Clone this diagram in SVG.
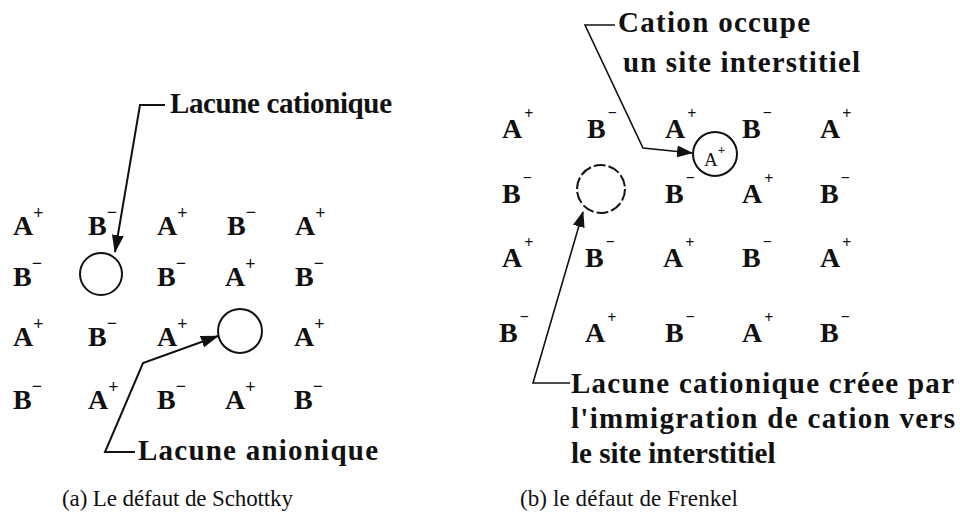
<svg xmlns="http://www.w3.org/2000/svg" width="960" height="518" viewBox="0 0 960 518">
<defs>
<style>
.ion{font-family:"Liberation Serif","DejaVu Serif",serif;font-weight:bold;font-size:28px;fill:#111}
.sup{font-size:18px}
.sup2{font-size:16px}
.lbl{font-family:"Liberation Serif","DejaVu Serif",serif;font-weight:bold;font-size:29px;fill:#111}
.cap{font-family:"Liberation Serif","DejaVu Serif",serif;font-size:23px;fill:#111}
.vac{fill:none;stroke:#111;stroke-width:2}
.conn{fill:none;stroke:#111;stroke-width:2;stroke-linejoin:miter}
.conn2{fill:none;stroke:#111;stroke-width:1.6}
</style>
<marker id="ah" viewBox="0 0 18 12" refX="17" refY="6" markerWidth="18" markerHeight="12" markerUnits="userSpaceOnUse" orient="auto">
<path d="M0,0 L18,6 L0,12 Z" fill="#111"/>
</marker>
<marker id="ah2" viewBox="0 0 16 12" refX="15" refY="6" markerWidth="16" markerHeight="12" markerUnits="userSpaceOnUse" orient="auto">
<path d="M0,0 L16,6 L0,12 Z" fill="#111"/>
</marker>
</defs>
<rect width="960" height="518" fill="#fff"/>

<!-- Panel (a): Schottky -->
<g id="schottky-lattice">
<text class="ion" x="13" y="235">A<tspan class="sup" dy="-16">+</tspan></text>
<text class="ion" x="88" y="235">B<tspan class="sup" dy="-17">−</tspan></text>
<text class="ion" x="157" y="235">A<tspan class="sup" dy="-16">+</tspan></text>
<text class="ion" x="227" y="235">B<tspan class="sup" dy="-17">−</tspan></text>
<text class="ion" x="295" y="235">A<tspan class="sup" dy="-16">+</tspan></text>

<text class="ion" x="13" y="286">B<tspan class="sup" dy="-17">−</tspan></text>
<text class="ion" x="157" y="286">B<tspan class="sup" dy="-17">−</tspan></text>
<text class="ion" x="225" y="286">A<tspan class="sup" dy="-16">+</tspan></text>
<text class="ion" x="295" y="286">B<tspan class="sup" dy="-17">−</tspan></text>

<text class="ion" x="13" y="346">A<tspan class="sup" dy="-16">+</tspan></text>
<text class="ion" x="88" y="346">B<tspan class="sup" dy="-17">−</tspan></text>
<text class="ion" x="157" y="346">A<tspan class="sup" dy="-16">+</tspan></text>
<text class="ion" x="294" y="346">A<tspan class="sup" dy="-16">+</tspan></text>

<text class="ion" x="13" y="409">B<tspan class="sup" dy="-17">−</tspan></text>
<text class="ion" x="88" y="409">A<tspan class="sup" dy="-16">+</tspan></text>
<text class="ion" x="157" y="409">B<tspan class="sup" dy="-17">−</tspan></text>
<text class="ion" x="225" y="409">A<tspan class="sup" dy="-16">+</tspan></text>
<text class="ion" x="294" y="409">B<tspan class="sup" dy="-17">−</tspan></text>
</g>
<g id="lacune-cationique-a"><circle class="vac" cx="101" cy="274" r="21"/></g>
<g id="lacune-anionique-a"><circle class="vac" cx="240" cy="331" r="22"/></g>
<g id="label-lacune-cationique"><text class="lbl" x="170" y="113" textLength="222">Lacune cationique</text></g>
<g id="label-lacune-anionique"><text class="lbl" x="138" y="460" textLength="240">Lacune anionique</text></g>

<!-- Panel (b): Frenkel -->
<g id="frenkel-lattice">
<text class="ion" x="502" y="138">A<tspan class="sup2" dx="2" dy="-19">+</tspan></text>
<text class="ion" x="587" y="138">B<tspan class="sup2" dx="2" dy="-20">−</tspan></text>
<text class="ion" x="665" y="138">A<tspan class="sup2" dx="2" dy="-19">+</tspan></text>
<text class="ion" x="742" y="138">B<tspan class="sup2" dx="2" dy="-20">−</tspan></text>
<text class="ion" x="820" y="138">A<tspan class="sup2" dx="2" dy="-19">+</tspan></text>

<text class="ion" x="502" y="203">B<tspan class="sup2" dx="2" dy="-20">−</tspan></text>
<text class="ion" x="665" y="203">B<tspan class="sup2" dx="2" dy="-20">−</tspan></text>
<text class="ion" x="742" y="203">A<tspan class="sup2" dx="2" dy="-19">+</tspan></text>
<text class="ion" x="820" y="203">B<tspan class="sup2" dx="2" dy="-20">−</tspan></text>

<text class="ion" x="502" y="267">A<tspan class="sup2" dx="2" dy="-19">+</tspan></text>
<text class="ion" x="585" y="267">B<tspan class="sup2" dx="2" dy="-20">−</tspan></text>
<text class="ion" x="663" y="267">A<tspan class="sup2" dx="2" dy="-19">+</tspan></text>
<text class="ion" x="742" y="267">B<tspan class="sup2" dx="2" dy="-20">−</tspan></text>
<text class="ion" x="820" y="267">A<tspan class="sup2" dx="2" dy="-19">+</tspan></text>

<text class="ion" x="499" y="342">B<tspan class="sup2" dx="2" dy="-20">−</tspan></text>
<text class="ion" x="585" y="342">A<tspan class="sup2" dx="2" dy="-19">+</tspan></text>
<text class="ion" x="665" y="342">B<tspan class="sup2" dx="2" dy="-20">−</tspan></text>
<text class="ion" x="742" y="342">A<tspan class="sup2" dx="2" dy="-19">+</tspan></text>
<text class="ion" x="820" y="342">B<tspan class="sup2" dx="2" dy="-20">−</tspan></text>
</g>
<g id="cation-interstitiel">
<circle class="vac" cx="715" cy="154" r="22" stroke-width="1.6"/>
<text x="704" y="166" font-family="Liberation Serif, DejaVu Serif, serif" font-size="19" fill="#111">A<tspan font-size="13" font-weight="bold" dy="-12">+</tspan></text>
</g>
<g id="lacune-cationique-b"><circle class="vac" cx="601" cy="189" r="24" stroke-width="1.6" stroke-dasharray="12 3"/></g>
<g id="label-cation-occupe">
<text class="lbl" x="618" y="32" textLength="192">Cation occupe</text>
<text class="lbl" x="623" y="72" textLength="237">un site interstitiel</text>
</g>
<g id="label-lacune-creee">
<text class="lbl" x="571" y="393" textLength="383">Lacune cationique créee par</text>
<text class="lbl" x="571" y="428" textLength="384">l'immigration de cation vers</text>
<text class="lbl" x="571" y="463" font-size="27">le site interstitiel</text>
</g>

<g id="connectors">
<polyline class="conn" points="165,105 140,105 115,252" marker-end="url(#ah)"/>
<polyline class="conn" points="135,452 105,452 143,363 218,336" marker-end="url(#ah)"/>
<polyline class="conn2" points="615,25 585,25 643,148 692,153" marker-end="url(#ah2)"/>
<polyline class="conn2" points="570,383 533,383 583,212" marker-end="url(#ah2)"/>
</g>

<g id="captions">
<text class="cap" x="62" y="506" textLength="231">(a) Le défaut de Schottky</text>
<text class="cap" x="520" y="506" textLength="218">(b) le défaut de Frenkel</text>
</g>
</svg>
